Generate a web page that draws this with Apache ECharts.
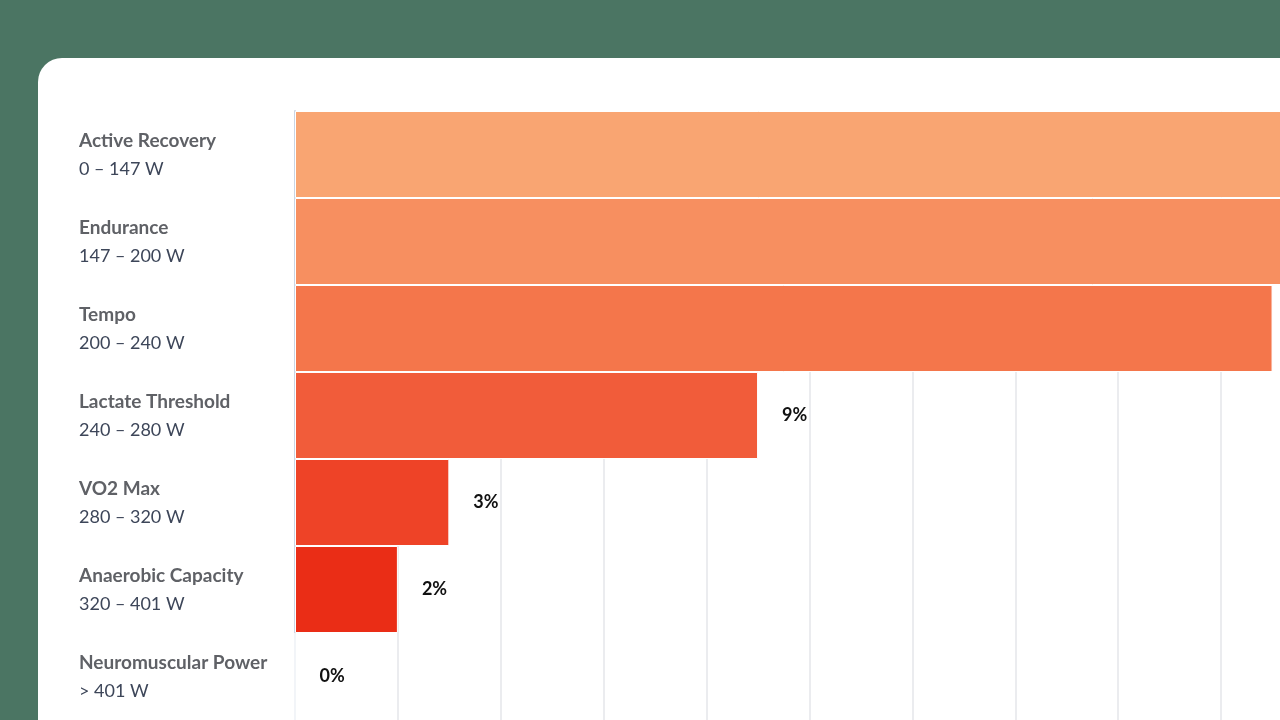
<!DOCTYPE html>
<html>
<head>
<meta charset="utf-8">
<title>Power zones</title>
<script src="https://cdn.jsdelivr.net/npm/echarts@6/dist/echarts.min.js"></script>
<style>
  html, body { margin: 0; padding: 0; width: 1280px; height: 720px; overflow: hidden; background: #4b7563; }
  #card { position: absolute; left: 38px; top: 58px; width: 2600px; height: 1000px; background: #fff; border-radius: 24px; }
  #chart { position: absolute; left: 0; top: 0; width: 2400px; height: 720px; }
</style>
</head>
<body>
<div id="card"></div>
<div id="chart"></div>
<script>
const zoneNames = ['Active Recovery', 'Endurance', 'Tempo', 'Lactate Threshold', 'VO2 Max', 'Anaerobic Capacity', 'Neuromuscular Power'];
const zoneRanges = ['0 – 147 W', '147 – 200 W', '200 – 240 W', '240 – 280 W', '280 – 320 W', '320 – 401 W', '> 401 W'];
const timeShare = [36, 31, 19, 9, 3, 2, 0];

const zoneColors = ['#f9a572', '#f78f60', '#f4764b', '#f15c3a', '#ee4327', '#ea2d16', '#e41e0c'];

const chart = echarts.init(document.getElementById('chart'));

chart.setOption({
  animation: false,
  grid: { left: 295, top: 111, width: 40 * 51.45, height: 609 },
  xAxis: {
    type: 'value',
    min: 0,
    max: 40,
    interval: 2,
    axisLabel: { show: false },
    axisLine: { show: false },
    axisTick: { show: false },
    splitLine: { lineStyle: { color: '#e4e6ea', width: 1.5 } }
  },
  yAxis: {
    type: 'category',
    inverse: true,
    data: zoneNames,
    axisTick: { show: false },
    axisLine: { lineStyle: { color: '#cbd5e3', width: 2 } },
    axisLabel: {
      align: 'left',
      margin: 216,
      formatter: (name, i) => '{n|' + name + '}\n{r|' + zoneRanges[i] + '}',
      rich: {
        n: { fontFamily: 'Lato', fontWeight: 'bold', fontSize: 19, color: '#5f6166', lineHeight: 29, padding: [2, 0, 0, 0] },
        r: { fontFamily: 'Lato', fontSize: 18, color: '#3d4659', lineHeight: 29 }
      }
    }
  },
  series: [{
    type: 'bar',
    data: timeShare,
    barCategoryGap: 0,
    itemStyle: {
      color: p => zoneColors[p.dataIndex],
      borderColor: '#fff',
      borderWidth: 1
    },
    label: {
      show: true,
      position: 'right',
      distance: 24,
      formatter: '{c}%',
      fontFamily: 'Lato',
      fontWeight: 'bold',
      fontSize: 18,
      color: '#111'
    }
  }]
});
</script>
</body>
</html>
